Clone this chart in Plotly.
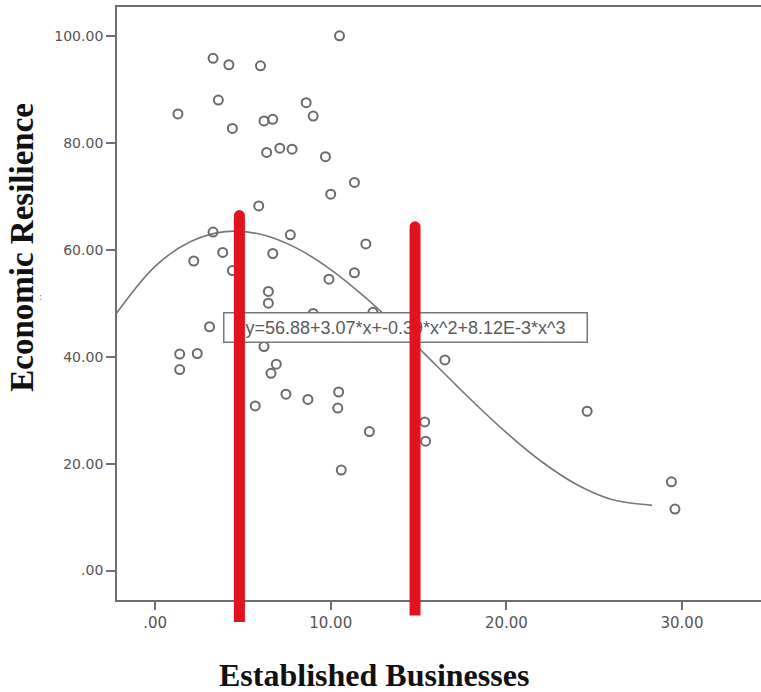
import plotly.graph_objects as go

# ---- data ----
established = [10.5, 3.3, 4.2, 6.0, 3.6, 8.6, 1.3, 9.0, 6.2, 6.7, 4.4, 6.35, 7.1, 7.8, 9.7,
               11.35, 10.0, 5.9, 3.3, 7.7, 3.85, 6.7, 2.2, 4.4, 12.0, 11.35, 9.9, 6.45, 6.45,
               9.0, 12.4, 3.1, 1.4, 2.4, 1.4, 6.2, 6.9, 6.6, 7.45, 8.7, 10.45, 10.4, 5.7,
               12.2, 10.6, 16.5, 15.35, 15.4, 24.6, 29.4, 29.6]
resilience = [100.0, 95.8, 94.6, 94.4, 88.0, 87.5, 85.4, 85.0, 84.1, 84.4, 82.7, 78.2, 79.0,
              78.8, 77.4, 72.6, 70.4, 68.2, 63.3, 62.8, 59.5, 59.3, 57.9, 56.1, 61.1, 55.7,
              54.5, 52.2, 50.0, 48.1, 48.3, 45.6, 40.5, 40.6, 37.6, 41.9, 38.6, 36.9, 33.0,
              32.0, 33.4, 30.4, 30.8, 26.0, 18.8, 39.4, 27.8, 24.2, 29.8, 16.6, 11.5]

# cubic fit curve
fit_x = [-2.2, 0, 2, 4, 6, 8, 10, 12, 14, 16, 18, 20, 22, 24, 26, 28, 28.3]
fit_y = [48.1, 56.9, 61.5, 63.4, 62.9, 60.4, 56.3, 51.0, 44.9, 38.4, 31.9, 25.8, 20.4,
         16.1, 13.3, 12.3, 12.2]
fit_label = "y=56.88+3.07*x+-0.39*x^2+8.12E-3*x^3"

# red marker lines
red_x = [4.8, 14.8]
red_top = [66.4, 64.3]
red_bottom = [-9.6, -8.4]

x_tickvals = [0, 10, 20, 30]
x_ticktext = [".00", "10.00", "20.00", "30.00"]
y_tickvals = [0, 20, 40, 60, 80, 100]
y_ticktext = [".00", "20.00", "40.00", "60.00", "80.00", "100.00"]

x_title = "Established Businesses"
y_title = "Economic Resilience"

RED = "#e2131f"
GREY = "#6b6b6b"

fig = go.Figure()

fig.add_trace(go.Scatter(
    x=fit_x, y=fit_y, mode="lines", line=dict(color="#777777", width=1.6, shape="spline"),
    hoverinfo="skip", showlegend=False))

fig.add_trace(go.Scatter(
    x=established, y=resilience, mode="markers",
    marker=dict(symbol="circle-open", size=9, color=GREY, line=dict(width=2, color=GREY)),
    showlegend=False))

# rounded caps for the red lines
fig.add_trace(go.Scatter(
    x=red_x + red_x, y=red_top + red_bottom, mode="markers", cliponaxis=False,
    marker=dict(symbol="circle", size=11, color=RED, line=dict(width=0)),
    hoverinfo="skip", showlegend=False))

annotations = []
# equation label box
annotations.append(dict(
    x=14.25, y=45.4, xref="x", yref="y", text=fit_label, showarrow=False,
    xanchor="center", yanchor="middle",
    font=dict(family="Liberation Sans, Arial", size=18, color="#5a5a5a"),
    bgcolor="white", bordercolor="#777777", borderwidth=1.5, borderpad=2,
    width=358, height=24))

for xv, t, b in zip(red_x, red_top, red_bottom):
    annotations.append(dict(
        x=xv, y=b, xref="x", yref="y", ax=xv, ay=t, axref="x", ayref="y",
        text="", showarrow=True, arrowhead=0, arrowwidth=11, arrowcolor=RED,
        standoff=0, startstandoff=0))

# axis titles
annotations.append(dict(
    x=0, y=0.594, xref="paper", yref="paper", xshift=-95, text=y_title, textangle=-90,
    showarrow=False, xanchor="center", yanchor="middle",
    font=dict(family="Liberation Serif, Times New Roman", size=33, color="#111111", weight="bold")))
annotations.append(dict(
    x=0.399, y=0, xref="paper", yref="paper", yshift=-75, text=x_title,
    showarrow=False, xanchor="center", yanchor="middle",
    font=dict(family="Liberation Serif, Times New Roman", size=32, color="#111111", weight="bold")))
annotations.append(dict(
    x=0, y=0.511, xref="paper", yref="paper", xshift=-77, text=":",
    showarrow=False, xanchor="center", yanchor="middle",
    font=dict(family="DejaVu Sans", size=9, color="#3d6fd0")))

fig.update_layout(
    width=761, height=692,
    margin=dict(l=117, r=0, t=7, b=92),
    paper_bgcolor="white", plot_bgcolor="white",
    annotations=annotations,
    xaxis=dict(
        range=[-2.17, 34.5], tickvals=x_tickvals, ticktext=x_ticktext,
        showgrid=False, zeroline=False, showline=True, linecolor="#6f6f6f", linewidth=1.8,
        mirror=True, ticks="outside", ticklen=8, tickwidth=1.8, tickcolor="#6f6f6f",
        tickfont=dict(family="DejaVu Sans", size=15, color="#555555")),
    yaxis=dict(
        range=[-5.5, 105.4], tickvals=y_tickvals, ticktext=y_ticktext,
        showgrid=False, zeroline=False, showline=True, linecolor="#6f6f6f", linewidth=1.8,
        ticks="outside", ticklen=9, tickwidth=1.8, tickcolor="#6f6f6f",
        tickfont=dict(family="DejaVu Sans", size=14, color="#555555")),
)

fig.write_html(
    "out.html",
    config={"displayModeBar": False},
    post_script="document.body.style.margin='0px';document.body.style.overflow='hidden';")
